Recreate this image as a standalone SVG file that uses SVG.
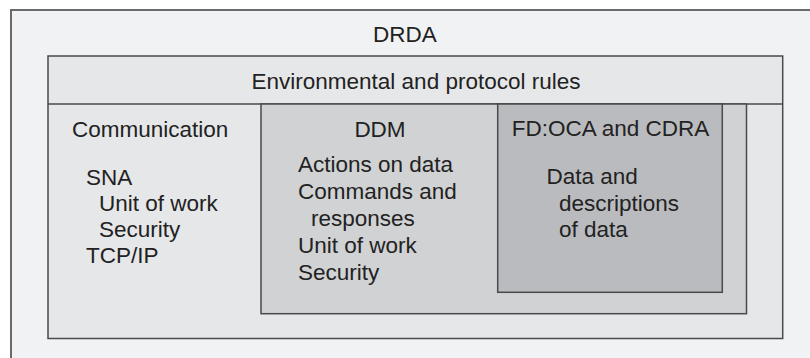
<svg xmlns="http://www.w3.org/2000/svg" width="810" height="358" viewBox="0 0 810 358">
<style>
text{font-family:"Liberation Sans",Arial,sans-serif;font-size:22.5px;fill:#222}
.box{stroke:#4a4a4a;stroke-width:1.5}
.outer{stroke:#6a6a6a;stroke-width:2}
.c{text-anchor:middle}
</style>
<rect width="810" height="358" fill="#ffffff"/>
<g id="drda">
<rect class="outer" x="11" y="10" width="810" height="360" fill="#f1f2f4"/>
<text class="c" x="405" y="42">DRDA</text>
</g>
<g id="env">
<rect class="box" x="48" y="56" width="734.7" height="282.5" fill="#e6e7e9"/>
<line class="box" x1="48" y1="104" x2="782.7" y2="104"/>
<text class="c" x="416" y="89">Environmental and protocol rules</text>
</g>
<g id="communication">
<text x="72" y="137">Communication</text>
<text x="86" y="185">SNA</text>
<text x="99" y="211">Unit of work</text>
<text x="99" y="237">Security</text>
<text x="86" y="263">TCP/IP</text>
</g>
<g id="ddm">
<rect class="box" x="261" y="104" width="485.5" height="209.7" fill="#d1d2d4"/>
<text class="c" x="380" y="137">DDM</text>
<text x="298" y="172">Actions on data</text>
<text x="298" y="199">Commands and</text>
<text x="311" y="226">responses</text>
<text x="298" y="253">Unit of work</text>
<text x="298" y="280">Security</text>
</g>
<g id="fdoca">
<rect class="box" x="497.7" y="104" width="224.6" height="188.3" fill="#babbbe"/>
<text class="c" x="610.5" y="136">FD:OCA and CDRA</text>
<text x="546.5" y="184">Data and</text>
<text x="559" y="211">descriptions</text>
<text x="559" y="237">of data</text>
</g>
<g id="connectors"/>
</svg>
